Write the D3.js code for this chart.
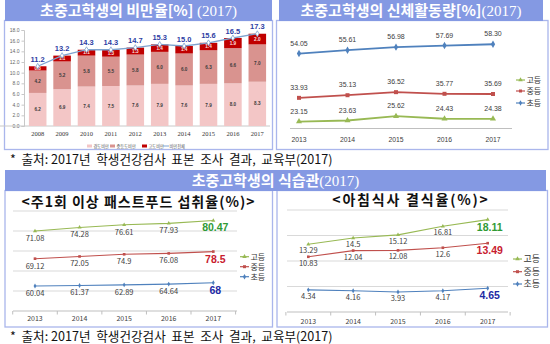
<!DOCTYPE html>
<html>
<head>
<meta charset="utf-8">
<script src="https://cdn.jsdelivr.net/npm/d3@7"></script>
<style>
  body { margin: 0; background: #fff; }
  svg { display: block; }
</style>
</head>
<body>
<svg id="chart" width="550" height="344"></svg>
<script>
// ---- data -------------------------------------------------------------
const obesityYears = ["2008","2009","2010","2011","2012","2013","2014","2015","2016","2017"];
const mildObesity     = [6.2, 6.9, 7.4, 7.5, 7.6, 7.9, 7.6, 7.9, 8.0, 8.3];
const moderateObesity = [4.2, 5.2, 5.8, 5.5, 5.8, 6.0, 6.0, 6.3, 6.6, 7.0];
const severeObesity   = [0.8, 1.1, 1.1, 1.3, 1.3, 1.4, 1.4, 1.4, 1.9, 2.0];
const obesityTotal    = [11.2, 13.2, 14.3, 14.3, 14.7, 15.3, 15.0, 15.6, 16.5, 17.3];
const obesityTicks    = [0, 2, 4, 6, 8, 10, 12, 14, 16, 18];
const obesityLegend   = ["경도비만", "중등도비만", "고도비만", "비만전체"];

const surveyYears = ["2013","2014","2015","2016","2017"];
const levelNames  = ["고등", "중등", "초등"];

const activityHigh       = [23.15, 23.63, 25.62, 24.43, 24.38];
const activityMiddle     = [33.93, 35.13, 36.52, 35.77, 35.69];
const activityElementary = [54.05, 55.61, 56.98, 57.69, 58.30];

const fastFoodHigh       = [71.08, 74.28, 76.61, 77.93, 80.47];
const fastFoodMiddle     = [69.12, 72.05, 74.9, 76.08, 78.5];
const fastFoodElementary = [60.04, 61.37, 62.89, 64.64, 68];

const skipHigh       = [13.29, 14.5, 15.12, 16.81, 18.11];
const skipMiddle     = [10.83, 12.04, 12.08, 12.6, 13.49];
const skipElementary = [4.34, 4.16, 3.93, 4.17, 4.65];

// ---- styles -----------------------------------------------------------
const KR = "'Noto Sans CJK KR', 'Noto Sans', sans-serif";
const SERIF = "'Liberation Serif', 'DejaVu Serif', serif";
const NARROW = "'Liberation Sans Narrow', 'Liberation Sans', sans-serif";
const frameColor = "#aab6ec";
const headerColor = "#8499e3";
const lineColors = { "고등": "#98b954", "중등": "#c0504d", "초등": "#4f81bd" };
const symbols = { "고등": d3.symbolTriangle, "중등": d3.symbolSquare, "초등": d3.symbolDiamond };
const strongColors = { "고등": "#2f9a35", "중등": "#c8202f", "초등": "#1d2aa5" };

const svg = d3.select("#chart");

function frame(x0, y0, x1, y1) {
  svg.append("rect")
    .attr("x", x0).attr("y", y0).attr("width", x1 - x0).attr("height", y1 - y0)
    .attr("fill", "none").attr("stroke", frameColor).attr("stroke-width", 1.3);
}

function header(x0, y0, x1, y1, parts) {
  svg.append("rect")
    .attr("x", x0).attr("y", y0).attr("width", x1 - x0).attr("height", y1 - y0)
    .attr("fill", headerColor);
  const t = svg.append("text")
    .attr("x", (x0 + x1) / 2).attr("y", y1 - 5)
    .attr("text-anchor", "middle").attr("fill", "#fff").attr("font-size", 15);
  parts.forEach(p => t.append("tspan").text(p.t)
    .attr("font-family", p.f).attr("font-weight", p.w));
}

function footnote(y) {
  svg.append("text")
    .attr("x", 10).attr("y", y)
    .attr("font-family", KR).attr("font-size", 12.6).attr("fill", "#111")
    .attr("xml:space", "preserve")
    .text("*  출처: 2017년  학생건강검사  표본  조사  결과,  교육부(2017)");
}

// ---- frames and headers -----------------------------------------------
frame(4.5, 20.5, 272.5, 149.5);
frame(276.5, 20.5, 548, 149.5);
frame(5, 190.5, 272.5, 327);
frame(277, 190.5, 547.5, 327);

header(5, 0, 272, 21, [
  { t: "초중고학생의 비만율[%] ", f: KR, w: 700 },
  { t: "(2017)", f: SERIF, w: 400 }
]);
header(279, 0, 543, 21, [
  { t: "초중고학생의 신체활동량[%]", f: KR, w: 700 },
  { t: "(2017)", f: SERIF, w: 400 }
]);
header(5, 170, 546, 191, [
  { t: "초중고학생의 식습관", f: KR, w: 700 },
  { t: "(2017)", f: SERIF, w: 400 }
]);

footnote(164);
footnote(340.5);

// ---- obesity stacked bars ---------------------------------------------
(function () {
  const g = svg.append("g");
  const x = d3.scaleBand().domain(obesityYears).range([25, 270])
    .paddingInner(0.28).paddingOuter(0.16);
  const y = d3.scaleLinear().domain([0, 18]).range([126, 30]);
  const keys = ["mild", "moderate", "severe"];
  const fills = ["#f3c6c6", "#d9938f", "#c00000"];
  const textFills = ["#3a3a3a", "#3a3a3a", "#ffe0e0"];

  const rows = obesityYears.map((yr, i) => ({
    year: yr, mild: mildObesity[i], moderate: moderateObesity[i], severe: severeObesity[i]
  }));
  const layers = d3.stack().keys(keys)(rows);

  const yAxis = g.append("g").attr("transform", "translate(24,0)")
    .call(d3.axisLeft(y).tickValues(obesityTicks).tickSize(2.5)
      .tickFormat(d3.format(".1f")).tickPadding(2));
  yAxis.selectAll("path,line").attr("stroke", "#c8c8c8");
  yAxis.selectAll("text").attr("font-size", 5).attr("font-family", NARROW).attr("fill", "#666");

  const xAxis = g.append("g").attr("transform", "translate(0,126)")
    .call(d3.axisBottom(x).tickSize(0).tickPadding(5));
  xAxis.select("path").attr("stroke", "#c8c8c8").attr("d", "M-1,0H270");
  xAxis.selectAll("text").attr("font-size", 6.5).attr("font-family", SERIF).attr("fill", "#333");

  layers.forEach((layer, li) => {
    g.append("g").selectAll("rect").data(layer).join("rect")
      .attr("x", d => x(d.data.year))
      .attr("width", x.bandwidth())
      .attr("y", d => y(d[1]))
      .attr("height", d => y(d[0]) - y(d[1]))
      .attr("fill", fills[li]);
    g.append("g").selectAll("text").data(layer).join("text")
      .attr("x", d => x(d.data.year) + x.bandwidth() / 2)
      .attr("y", d => y((d[0] + d[1]) / 2) + 1.6)
      .attr("text-anchor", "middle")
      .attr("font-size", 4.6).attr("font-family", NARROW).attr("font-weight", 700)
      .attr("fill", textFills[li])
      .text(d => (d[1] - d[0]).toFixed(1));
  });

  const cx = (d, i) => x(obesityYears[i]) + x.bandwidth() / 2;
  g.append("path").datum(obesityTotal)
    .attr("d", d3.line().x(cx).y(d => y(d)))
    .attr("fill", "none").attr("stroke", "#7ea3cf").attr("stroke-width", 1.3);
  g.append("g").selectAll("path").data(obesityTotal).join("path")
    .attr("transform", (d, i) => `translate(${cx(d, i)},${y(d)})`)
    .attr("d", d3.symbol(d3.symbolDiamond, 10))
    .attr("fill", "#fff").attr("stroke", "#7ea3cf").attr("stroke-width", 0.8);
  g.append("g").selectAll("text").data(obesityTotal).join("text")
    .attr("x", cx).attr("y", d => y(d) - 4.5)
    .attr("text-anchor", "middle")
    .attr("font-size", 7.5).attr("font-weight", 700).attr("font-family", "'Liberation Sans', sans-serif")
    .attr("fill", "#2e3ea3")
    .text(d => d.toFixed(1));

  // legend
  const lx = [87, 110, 142, 163];
  obesityLegend.forEach((name, i) => {
    if (i < 3) {
      g.append("rect").attr("x", lx[i]).attr("y", 144.5).attr("width", 5).attr("height", 3)
        .attr("fill", fills[i]);
    } else {
      g.append("line").attr("x1", lx[i]).attr("x2", lx[i] + 6).attr("y1", 146).attr("y2", 146)
        .attr("stroke", "#7ea3cf").attr("stroke-width", 1);
    }
    g.append("text").attr("x", lx[i] + 6.5).attr("y", 147.6)
      .attr("font-size", 4.2).attr("font-family", KR).attr("fill", "#555").text(name);
  });
})();

// ---- generic multi-line chart -----------------------------------------
function lineChart(opt) {
  const g = svg.append("g");
  const x = d3.scalePoint().domain(surveyYears).range(opt.xRange);

  if (opt.grid) {
    opt.grid.forEach(v => g.append("line")
      .attr("x1", opt.axisX[0]).attr("x2", opt.axisX[1])
      .attr("y1", opt.gridScale(v)).attr("y2", opt.gridScale(v))
      .attr("stroke", "#d9d9d9").attr("stroke-width", 1));
  }
  g.append("line")
    .attr("x1", opt.axisX[0]).attr("x2", opt.axisX[1])
    .attr("y1", opt.axisY).attr("y2", opt.axisY)
    .attr("stroke", "#bfbfbf").attr("stroke-width", 1);
  if (opt.catTicks) {
    const step = x.step();
    const edges = d3.range(surveyYears.length + 1).map(i => opt.xRange[0] - step / 2 + i * step);
    edges.forEach(e => g.append("line")
      .attr("x1", e).attr("x2", e).attr("y1", opt.axisY).attr("y2", opt.axisY + 3.5)
      .attr("stroke", "#bfbfbf"));
  }
  g.append("g").selectAll("text").data(surveyYears).join("text")
    .attr("x", d => x(d)).attr("y", opt.yearY)
    .attr("text-anchor", "middle")
    .attr("font-size", opt.yearSize).attr("font-family", opt.yearFont).attr("fill", "#404040")
    .text(d => d);

  opt.series.forEach(s => {
    const y = s.scale;
    const col = lineColors[s.name];
    g.append("path").datum(s.values)
      .attr("d", d3.line().x((d, i) => x(surveyYears[i])).y(d => y(d)))
      .attr("fill", "none").attr("stroke", col).attr("stroke-width", opt.lineWidth);
    g.append("g").selectAll("path").data(s.values).join("path")
      .attr("transform", (d, i) => `translate(${x(surveyYears[i])},${y(d)})`)
      .attr("d", d3.symbol(symbols[s.name], opt.symbolSize))
      .attr("fill", col);
    g.append("g").selectAll("text").data(s.values).join("text")
      .attr("x", (d, i) => x(surveyYears[i]) + (opt.strongLast && i === 4 ? 2 : 0))
      .attr("y", (d, i) => y(d) + ((opt.strongLast && i === 4) ? opt.strongDy : opt.labelDy))
      .attr("text-anchor", "middle")
      .attr("font-family", (d, i) => (opt.strongLast && i === 4) ? "'Liberation Sans', sans-serif" : opt.labelFont)
      .attr("font-size", (d, i) => (opt.strongLast && i === 4) ? opt.strongSize : opt.labelSize)
      .attr("font-weight", (d, i) => (opt.strongLast && i === 4) ? 700 : 400)
      .attr("fill", (d, i) => (opt.strongLast && i === 4) ? strongColors[s.name] : "#404040")
      .text(opt.fmt);
  });

  // legend
  levelNames.forEach((name, i) => {
    const ly = opt.legendY[i];
    const col = lineColors[name];
    g.append("line").attr("x1", opt.legendX).attr("x2", opt.legendX + 9)
      .attr("y1", ly).attr("y2", ly).attr("stroke", col).attr("stroke-width", 1.2);
    g.append("path").attr("transform", `translate(${opt.legendX + 4.5},${ly})`)
      .attr("d", d3.symbol(symbols[name], 9)).attr("fill", col);
    g.append("text").attr("x", opt.legendX + 10.5).attr("y", ly + 3)
      .attr("font-family", KR).attr("font-size", opt.legendSize).attr("fill", "#333").text(name);
  });

  if (opt.title) {
    g.append("text").attr("x", opt.title.x).attr("y", opt.title.y)
      .attr("text-anchor", "middle").attr("font-family", KR).attr("font-weight", 700)
      .attr("font-size", 14).attr("letter-spacing", opt.title.spacing).attr("fill", "#111")
      .text(opt.title.text);
  }
}

// physical activity
(function () {
  const y = d3.scaleLinear().domain([20, 65]).range([128.5, 29.5]);
  lineChart({
    xRange: [299, 493], axisX: [290, 512], axisY: y(20),
    yearY: 141.5, yearSize: 6.8, yearFont: NARROW,
    lineWidth: 1.8, symbolSize: 16,
    labelDy: -8, labelSize: 7, labelFont: NARROW,
    fmt: d => d.toFixed(2),
    legendX: 516, legendY: [80, 91, 103], legendSize: 8,
    series: [
      { name: "초등", values: activityElementary, scale: y },
      { name: "중등", values: activityMiddle, scale: y },
      { name: "고등", values: activityHigh, scale: y }
    ]
  });
})();

// fast food: each school level drawn in its own band
(function () {
  const base = 311;
  const yHigh = d3.scaleLinear().domain([0, 100]).range([base, 198.5]);
  const yMid = d3.scaleLinear().domain([0, 100]).range([base, 235.3]);
  const yElem = d3.scaleLinear().domain([0, 100]).range([base, 269.4]);
  const grid = d3.scaleLinear().domain([0, 5]).range([base, 211]);
  lineChart({
    xRange: [35, 213.3], axisX: [13, 237], axisY: base,
    grid: [1, 2, 3, 4, 5], gridScale: grid, catTicks: true,
    yearY: 321, yearSize: 7, yearFont: KR,
    lineWidth: 1.1, symbolSize: 7,
    labelDy: 10, labelSize: 7.5, labelFont: KR,
    strongLast: true, strongDy: 11, strongSize: 10.5,
    fmt: d => String(d),
    legendX: 240, legendY: [256.7, 266.7, 276.7], legendSize: 8,
    title: { x: 138.5, y: 207, text: "<주1회 이상 패스트푸드 섭취율(%)>", spacing: 1 },
    series: [
      { name: "고등", values: fastFoodHigh, scale: yHigh },
      { name: "중등", values: fastFoodMiddle, scale: yMid },
      { name: "초등", values: fastFoodElementary, scale: yElem }
    ]
  });
})();

// skipped breakfast
(function () {
  const y = d3.scaleLinear().domain([0, 20]).range([312, 210]);
  lineChart({
    xRange: [308.3, 487.7], axisX: [287, 508], axisY: y(0),
    grid: [5, 10, 15, 20], gridScale: y, catTicks: true,
    yearY: 323.5, yearSize: 7, yearFont: KR,
    lineWidth: 1.1, symbolSize: 7,
    labelDy: 9, labelSize: 7.5, labelFont: KR,
    strongLast: true, strongDy: 11, strongSize: 10.5,
    fmt: d => String(d),
    legendX: 513, legendY: [259, 271.7, 284], legendSize: 9,
    title: { x: 411, y: 205, text: "<아침식사 결식율(%)>", spacing: 1.8 },
    series: [
      { name: "고등", values: skipHigh, scale: y },
      { name: "중등", values: skipMiddle, scale: y },
      { name: "초등", values: skipElementary, scale: y }
    ]
  });
})();
</script>
</body>
</html>
